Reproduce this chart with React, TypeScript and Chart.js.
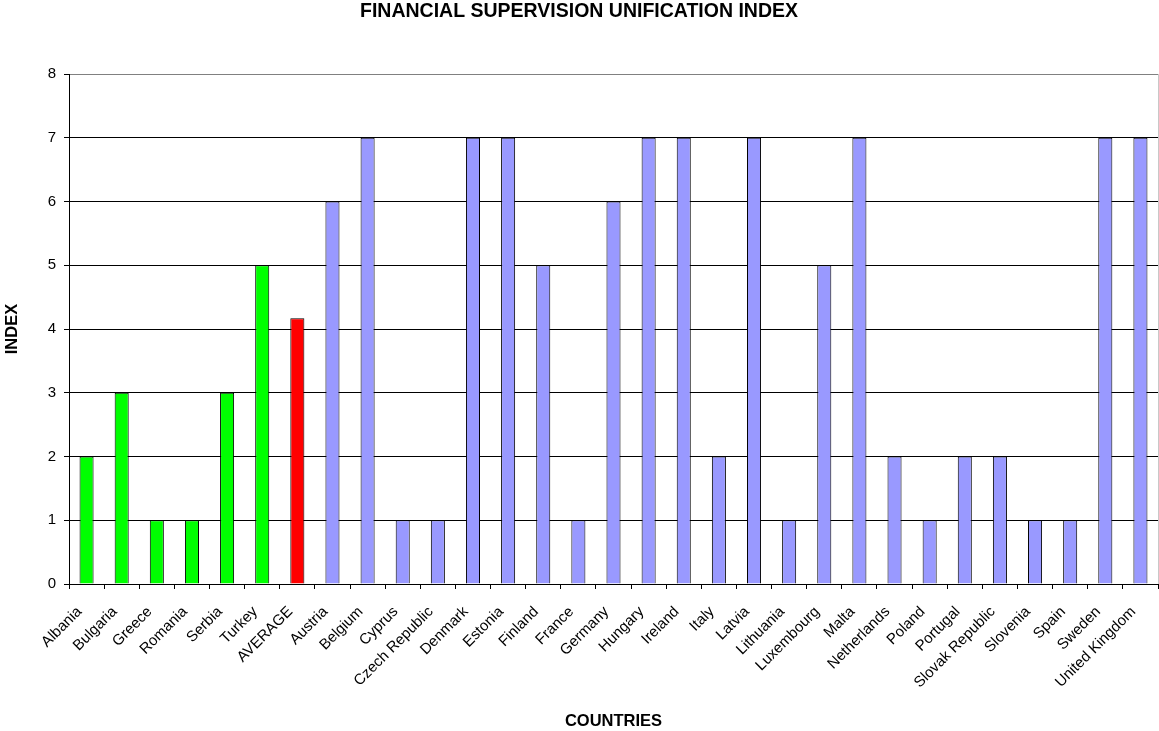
import React, { useEffect, useRef } from "react";
import { Chart, registerables } from "chart.js";

Chart.register(...registerables);

const categories = [
  "Albania", "Bulgaria", "Greece", "Romania", "Serbia", "Turkey", "AVERAGE",
  "Austria", "Belgium", "Cyprus", "Czech Republic", "Denmark", "Estonia", "Finland",
  "France", "Germany", "Hungary", "Ireland", "Italy", "Latvia", "Lithuania",
  "Luxembourg", "Malta", "Netherlands", "Poland", "Portugal", "Slovak Republic",
  "Slovenia", "Spain", "Sweden", "United Kingdom",
];

const indexValues = [
  2, 3, 1, 1, 3, 5, 4.17,
  6, 7, 1, 1, 7, 7, 5,
  1, 6, 7, 7, 2, 7, 1,
  5, 7, 2, 1, 2, 2,
  1, 1, 7, 7,
];

const groups = [
  "see", "see", "see", "see", "see", "see", "avg",
  "eu", "eu", "eu", "eu", "eu", "eu", "eu",
  "eu", "eu", "eu", "eu", "eu", "eu", "eu",
  "eu", "eu", "eu", "eu", "eu", "eu",
  "eu", "eu", "eu", "eu",
];

const groupColors: Record<string, string> = {
  see: "#00FF00",
  avg: "#FF0000",
  eu: "#9999FF",
};

const yTicks = [0, 1, 2, 3, 4, 5, 6, 7, 8];

const FONT = "'Liberation Sans', Arial, Helvetica, sans-serif";

const rightBorder = {
  id: "rightBorder",
  afterDraw(chart: any) {
    const { ctx, chartArea } = chart;
    ctx.save();
    ctx.strokeStyle = "#C8C8C8";
    ctx.lineWidth = 1;
    ctx.beginPath();
    ctx.moveTo(Math.round(chartArea.right) + 0.5, chartArea.top);
    ctx.lineTo(Math.round(chartArea.right) + 0.5, chartArea.bottom);
    ctx.stroke();
    ctx.restore();
  },
};

export default function App() {
  const ref = useRef<HTMLCanvasElement | null>(null);

  useEffect(() => {
    if (!ref.current) return;
    const chart = new Chart(ref.current, {
      type: "bar",
      data: {
        labels: categories,
        datasets: [
          {
            data: indexValues,
            backgroundColor: groups.map((g) => groupColors[g]),
            borderColor: "#000000",
            borderWidth: 1,
            barPercentage: 0.5,
            categoryPercentage: 0.8,
          },
        ],
      },
      plugins: [rightBorder],
      options: {
        animation: false,
        responsive: false,
        devicePixelRatio: 1,
        layout: { padding: { left: 0, right: 1, top: 0, bottom: 0 } },
        plugins: {
          legend: { display: false },
          tooltip: { enabled: false },
          title: {
            display: true,
            text: "FINANCIAL SUPERVISION UNIFICATION INDEX",
            color: "#000000",
            font: { family: FONT, size: 19.5, weight: "bold" },
            padding: { top: 0, bottom: 50.6 },
          },
        },
        scales: {
          x: {
            type: "category",
            offset: true,
            afterFit: (s: any) => {
              s.height = 147;
              s.paddingLeft = 0;
              s.paddingRight = 0;
            },
            grid: {
              offset: true,
              drawOnChartArea: false,
              drawTicks: true,
              tickLength: 5,
              color: "#000000",
            },
            border: { color: "#000000", width: 1 },
            ticks: {
              autoSkip: false,
              maxRotation: 45,
              minRotation: 45,
              color: "#000000",
              font: { family: FONT, size: 15 },
              padding: 14,
              labelOffset: -7,
            },
            title: {
              display: true,
              text: "COUNTRIES",
              color: "#000000",
              font: { family: FONT, size: 16.5, weight: "bold" },
              padding: { top: 0, bottom: 0 },
            },
          },
          y: {
            min: 0,
            max: 8,
            afterFit: (s: any) => {
              s.width = 69;
            },
            afterBuildTicks: (s: any) => {
              s.ticks = yTicks.map((v) => ({ value: v }));
            },
            grid: {
              color: (c: any) => (c.tick && c.tick.value === 8 ? "#808080" : "#000000"),
              tickColor: "#000000",
              tickLength: 5,
              drawTicks: true,
            },
            border: { color: "#000000", width: 1 },
            ticks: {
              stepSize: 1,
              color: "#000000",
              font: { family: FONT, size: 15 },
              padding: 8,
            },
            title: {
              display: true,
              text: "INDEX",
              color: "#000000",
              font: { family: FONT, size: 16.5, weight: "bold" },
              padding: { top: 3, bottom: 0 },
            },
          },
        },
      },
    });
    return () => chart.destroy();
  }, []);

  return (
    <div style={{ position: "absolute", left: 0, top: 0, width: 1159, height: 731, background: "#fff" }}>
      <canvas ref={ref} width={1159} height={731} style={{ width: 1159, height: 731, display: "block" }} />
    </div>
  );
}
